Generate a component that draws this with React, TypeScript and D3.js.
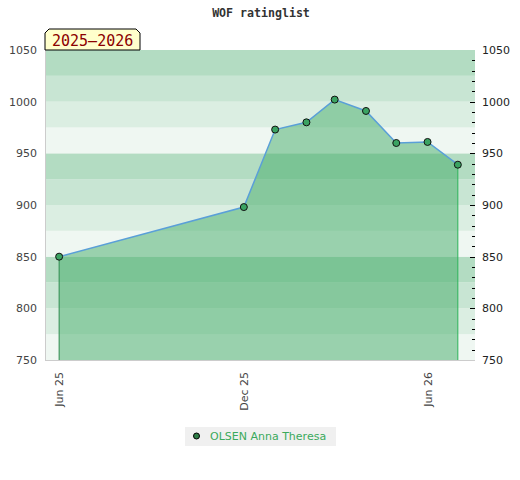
import React from "react";
import * as d3 from "d3";

const title = "WOF ratinglist";
const seasonLabel = "2025–2026";
const playerName = "OLSEN Anna Theresa";
const ratingDates = ["2025-06-01", "2025-12-01", "2026-01-01", "2026-02-01", "2026-03-01", "2026-04-01", "2026-05-01", "2026-06-01", "2026-07-01"];
const ratings = [850, 898, 973, 980, 1002, 991, 960, 961, 939];
const xTickDates = ["2025-06-01", "2025-12-01", "2026-06-01"];
const xTickLabels = ["Jun 25", "Dec 25", "Jun 26"];
const yTicks = [750, 800, 850, 900, 950, 1000, 1050];
const xDomain = ["2025-05-18", "2026-07-18"];
const yDomain = [750, 1050];
const bandColors = ["#eff7f2", "#dbeee2", "#c8e5d3", "#b3dcc2"];

const W = 520, H = 480;
const left = 45, right = 475, top = 50, bottom = 360;

export default function App() {
  const parse = d3.timeParse("%Y-%m-%d");
  const x = d3.scaleTime().domain(xDomain.map((d) => parse(d) as Date)).range([left, right]);
  const y = d3.scaleLinear().domain(yDomain).range([bottom, top]);
  const pts = ratingDates.map((d, i) => ({ x: x(parse(d) as Date), y: y(ratings[i]) }));

  const bands: { v0: number; v1: number; c: string }[] = [];
  for (let v = yDomain[0]; v < yDomain[1]; v += 25) {
    const idx = ((v - 750) / 25) % 4;
    bands.push({ v0: v, v1: v + 25, c: bandColors[idx] });
  }
  const minor = d3.range(yDomain[0] + 10, yDomain[1], 10);

  const area = d3.area<{ x: number; y: number }>().x((d) => d.x).y0(bottom).y1((d) => d.y);
  const line = d3.line<{ x: number; y: number }>().x((d) => d.x).y((d) => d.y);
  const first = pts[0], last = pts[pts.length - 1];

  return (
    <svg width={W} height={H} style={{ position: "absolute", left: 0, top: 0 }} fontFamily="DejaVu Sans">
      <rect x={0} y={0} width={W} height={H} fill="#fff" />
      <text x={261} y={17} textAnchor="middle" fontFamily="DejaVu Sans Mono" fontWeight="bold" fontSize={11.6} fill="#333">{title}</text>
      {bands.map((b, i) => (
        <rect key={i} x={left} y={y(b.v1)} width={right - left} height={y(b.v0) - y(b.v1)} fill={b.c} />
      ))}
      <path d={area(pts) || ""} fill="rgb(67,171,103)" fillOpacity={0.5} />
      <line x1={first.x} x2={first.x} y1={first.y} y2={bottom} stroke="#2e8b4e" strokeWidth={1} />
      <line x1={last.x} x2={last.x} y1={last.y} y2={bottom} stroke="#2db35a" strokeWidth={1} />
      <path d={line(pts) || ""} fill="none" stroke="#5a9fd8" strokeWidth={1.5} />
      {pts.map((p, i) => (
        <circle key={i} cx={p.x} cy={p.y} r={3.5} fill="#3ba362" stroke="#111" strokeWidth={1} />
      ))}
      <line x1={left + 0.5} x2={left + 0.5} y1={top} y2={bottom} stroke="#ccc" />
      <line x1={left} x2={right} y1={bottom + 0.5} y2={bottom + 0.5} stroke="#ccc" />
      {minor.map((v) => (
        <line key={v} x1={v % 50 === 0 ? right - 5 : right - 3} x2={right} y1={Math.round(y(v)) + 0.5} y2={Math.round(y(v)) + 0.5} stroke="#000" />
      ))}
      {yTicks.map((v) => (
        <text key={"l" + v} x={37} y={y(v) + 4} textAnchor="end" fontSize={11} fill="#444">{v}</text>
      ))}
      {yTicks.map((v) => (
        <text key={"r" + v} x={482} y={y(v) + 4} textAnchor="start" fontSize={11} fill="#222">{v}</text>
      ))}
      {xTickDates.map((d, i) => {
        const xx = x(parse(d) as Date);
        return (
          <text key={d} transform={`translate(${xx + 4},${372}) rotate(-90)`} textAnchor="end" fontSize={11} fill="#444">{xTickLabels[i]}</text>
        );
      })}
      <path d={`M${left},50 L${left},33 L${left + 4},29 L136,29 L140,33 L140,50 Z`} fill="#ffffcc" stroke="#000" strokeWidth={1} />
      <text x={52} y={46} fontFamily="DejaVu Sans Mono" fontSize={15} fill="#8b0000">{seasonLabel}</text>
      <rect x={185} y={427} width={151} height={19} fill="#f0f0f0" />
      <circle cx={196.5} cy={436} r={3} fill="#2e7d46" stroke="#000" strokeWidth={1} />
      <text x={210} y={440} fontSize={11} fill="#3aaa5c">{playerName}</text>
    </svg>
  );
}
